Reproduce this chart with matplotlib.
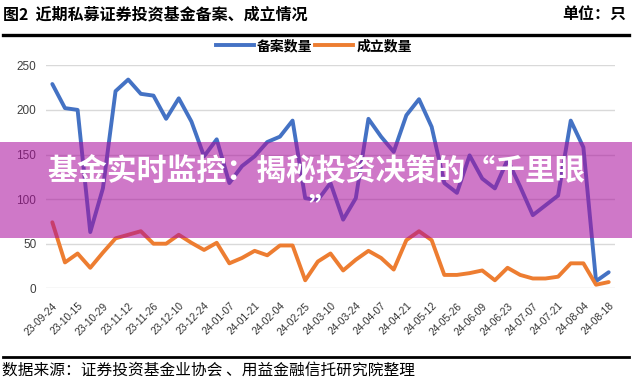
import matplotlib
matplotlib.use("Agg")
import matplotlib.pyplot as plt
from matplotlib.patches import Rectangle
from matplotlib.lines import Line2D

plt.rcParams['font.family'] = ['Noto Sans CJK SC', 'DejaVu Sans']

dates = ["23-09-24", "23-10-08", "23-10-15", "23-10-22", "23-10-29", "23-11-05",
         "23-11-12", "23-11-19", "23-11-26", "23-12-03", "23-12-10", "23-12-17",
         "23-12-24", "23-12-31", "24-01-07", "24-01-14", "24-01-21", "24-01-28",
         "24-02-04", "24-02-18", "24-02-25", "24-03-03", "24-03-10", "24-03-17",
         "24-03-24", "24-03-31", "24-04-07", "24-04-14", "24-04-21", "24-05-05",
         "24-05-12", "24-05-19", "24-05-26", "24-06-02", "24-06-09", "24-06-16",
         "24-06-23", "24-06-30", "24-07-07", "24-07-14", "24-07-21", "24-07-28",
         "24-08-04", "24-08-11", "24-08-18"]

filed = [229, 202, 200, 63, 112, 221, 234, 218, 216, 190, 213, 187, 148, 167, 118,
         137, 148, 164, 170, 188, 101, 99, 118, 77, 101, 190, 170, 153, 194, 212,
         181, 118, 107, 149, 123, 112, 144, 114, 82, 93, 104, 188, 158, 8, 18]

established = [74, 29, 39, 23, 40, 56, 60, 64, 50, 50, 60, 51, 43, 51, 28, 34, 42, 37,
               48, 48, 9, 30, 39, 20, 32, 42, 34, 21, 54, 64, 54, 15, 15, 17, 20, 9,
               23, 15, 11, 11, 13, 28, 28, 4, 7]

series_names = ["备案数量", "成立数量"]
yticks = [0, 50, 100, 150, 200, 250]

title = "图2  近期私募证券投资基金备案、成立情况"
unit = "单位：只"
source = "数据来源：证券投资基金业协会 、用益金融信托研究院整理"
banner = "基金实时监控：揭秘投资决策的“千里眼"
banner2 = "”"

W, H = 632, 381
fig = plt.figure(figsize=(W / 100, H / 100), dpi=100)
fig.patch.set_facecolor("white")

def fx(px):
    return px / W

def fy(py):
    return 1 - py / H

ax = fig.add_axes([fx(46), fy(288.3), fx(615) - fx(46), fy(65.3) - fy(288.3)])
x = list(range(len(dates)))
blue = "#4472C4"
orange = "#ED7D31"
ax.plot(x, filed, color=blue, lw=2.8, solid_joinstyle="round", solid_capstyle="round", zorder=3)
ax.plot(x, established, color=orange, lw=2.8, solid_joinstyle="round", solid_capstyle="round", zorder=3)
ax.set_xlim(-0.5, len(dates) - 0.5)
ax.set_ylim(0, 250)
ax.set_yticks(yticks)
ax.set_yticklabels([str(v) for v in yticks], family="Liberation Sans", fontsize=8.5, color="#404040")
ax.set_xticks(x[::2])
ax.set_xticklabels(dates[::2], rotation=45, ha="right", rotation_mode="anchor",
                   family="Liberation Sans", fontsize=7.4, color="#333333")
ax.tick_params(axis="both", length=0)
ax.tick_params(axis="y", pad=7)
ax.tick_params(axis="x", pad=9)
ax.grid(axis="y", color="#D9D9D9", lw=1)
ax.set_axisbelow(True)
for s in ax.spines.values():
    s.set_visible(False)

handles = [Line2D([], [], color=blue, lw=2.8), Line2D([], [], color=orange, lw=2.8)]
leg = fig.legend(handles, series_names, loc="center", bbox_to_anchor=(fx(314), fy(46)),
                 ncol=2, frameon=False, handlelength=2.7, handletextpad=0.25,
                 columnspacing=0.2, prop={"family": "Noto Sans CJK SC", "weight": "bold", "size": 10})

fig.text(fx(3), fy(14), title, ha="left", va="center", fontsize=11.5, fontweight="bold", color="black")
fig.text(fx(626), fy(14), unit, ha="right", va="center", fontsize=11.5, fontweight="bold", color="black")
fig.add_artist(Line2D([fx(3), fx(629)], [fy(35), fy(35)], color="black", lw=2.4))
fig.add_artist(Line2D([fx(3), fx(629)], [fy(357), fy(357)], color="black", lw=2.0))
fig.text(fx(2), fy(370), source, ha="left", va="center", fontsize=11.3, color="black")

fig.add_artist(Rectangle((0, fy(237.7)), 1, fy(141.7) - fy(237.7), transform=fig.transFigure,
                         facecolor=(170 / 255, 14 / 255, 157 / 255), alpha=0.56, edgecolor="none", zorder=10))
fig.text(0.5, fy(171.5), banner, ha="center", va="center", fontsize=21.5, fontweight="bold",
         color="white", zorder=11)
fig.text(fx(323), fy(209), banner2, ha="center", va="center", fontsize=21.5, fontweight="bold",
         color="white", zorder=11)

fig.savefig("out.png", dpi=100, facecolor="white")
